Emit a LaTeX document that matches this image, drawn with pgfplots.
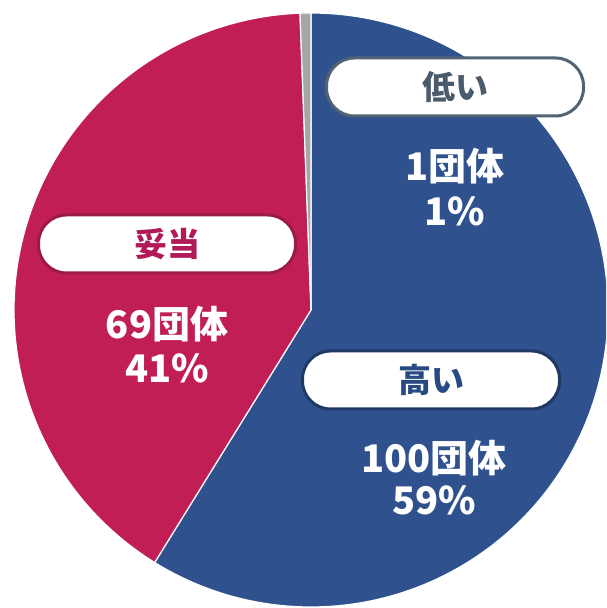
\documentclass[border=0pt]{standalone}
\usepackage{pgfplots}
\pgfplotsset{compat=1.18}
\usepackage{pgfplotstable}
\usepackage{fontspec}
\setmainfont{Noto Sans CJK JP}
\definecolor{pieblue}{HTML}{2F528F}
\definecolor{piered}{HTML}{C01E55}
\definecolor{piegray}{HTML}{A6A6A6}
\definecolor{edgelow}{HTML}{526474}
\definecolor{edgefair}{HTML}{9C1A48}
\definecolor{edgehigh}{HTML}{1F3864}
\definecolor{txtlow}{HTML}{4A5B6B}
\definecolor{txtfair}{HTML}{B01A58}
\definecolor{txthigh}{HTML}{284A82}
\tikzset{
  boxlab/.style={draw, line width=1.5pt, fill=white, rounded corners=14pt,
     minimum width=128.5pt, minimum height=29pt, inner sep=0pt,
     font=\fontsize{16.5pt}{18pt}\selectfont\bfseries},
  vallab/.style={text=white, inner sep=0pt, font=\fontsize{19pt}{22pt}\selectfont\bfseries},
}
\pgfplotstableread[col sep=comma]{
label,value
high,100
fair,69
low,1
}\piedata
\pgfplotstablegetelem{0}{value}\of\piedata \let\vHigh\pgfplotsretval
\pgfplotstablegetelem{1}{value}\of\piedata \let\vFair\pgfplotsretval
\pgfplotstablegetelem{2}{value}\of\piedata \let\vLow\pgfplotsretval
\pgfmathsetmacro\tot{\vHigh+\vFair+\vLow}
\pgfmathsetmacro\aA{90-\vHigh/\tot*360}
\pgfmathsetmacro\aB{\aA-\vFair/\tot*360}
\pgfmathsetmacro\aC{\aB-\vLow/\tot*360}
\begin{document}%
\begin{tikzpicture}
\begin{axis}[
  scale only axis, width=303pt, height=304pt,
  xmin=0, xmax=606, ymin=0, ymax=608,
  hide axis, clip=true,
]
\addplot[draw=none] coordinates {(0,0) (606,608)};
\addplot[fill=pieblue, draw=white, line width=0.6pt, domain=\aA:90, samples=150, variable=\t]
  ({311+297*cos(\t)},{298+297*sin(\t)}) -- (311,298) -- cycle;
\addplot[fill=piered, draw=white, line width=0.6pt, domain=\aB:\aA, samples=150, variable=\t]
  ({311+297*cos(\t)},{298+297*sin(\t)}) -- (311,298) -- cycle;
\addplot[fill=piegray, draw=white, line width=0.6pt, domain=\aC:\aB, samples=10, variable=\t]
  ({311+297*cos(\t)},{298+297*sin(\t)}) -- (311,298) -- cycle;

\node[boxlab, draw=edgelow, text=txtlow] at (axis cs:455,521) {低い};
\node[boxlab, draw=edgefair, text=txtfair] at (axis cs:167,364) {妥当};
\node[boxlab, draw=edgehigh, text=txthigh] at (axis cs:431,228) {高い};

\node[vallab] at (axis cs:455,442) {1団体};
\node[vallab] at (axis cs:455,397) {1\%};
\node[vallab] at (axis cs:167,284) {69団体};
\node[vallab] at (axis cs:167,240) {41\%};
\node[vallab] at (axis cs:434,150) {100団体};
\node[vallab] at (axis cs:434,108) {59\%};
\end{axis}
\end{tikzpicture}%
\end{document}
